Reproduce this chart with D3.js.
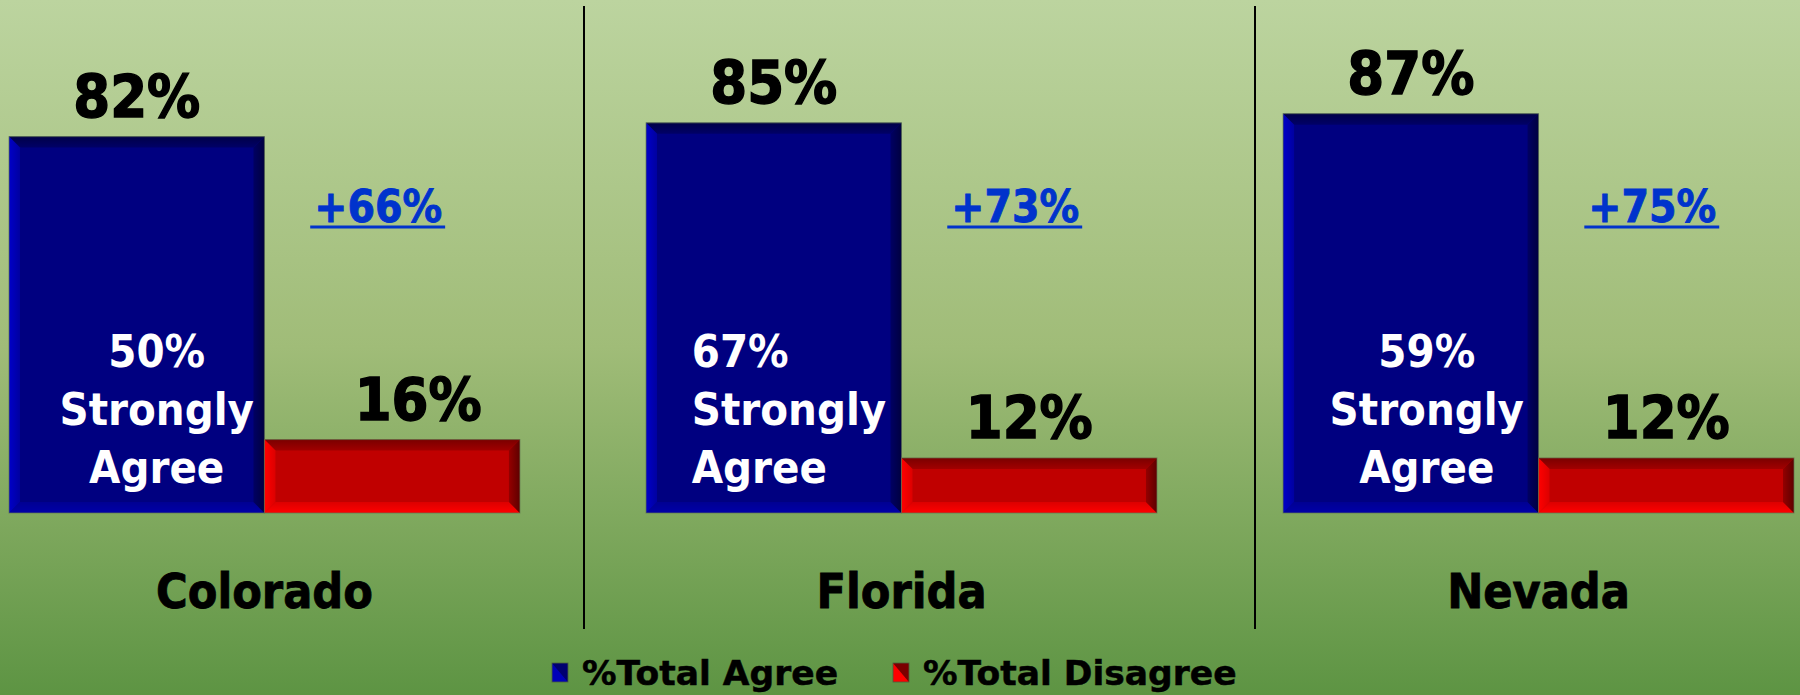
<!DOCTYPE html>
<html>
<head>
<meta charset="utf-8">
<script src="https://cdn.jsdelivr.net/npm/d3@7"></script>
<style>
  html, body { margin: 0; padding: 0; background: #fff; }
  svg { display: block; }
  text { font-family: Tahoma, "DejaVu Sans Condensed", "DejaVu Sans", sans-serif; font-weight: bold; }
</style>
</head>
<body>
<div id="chart"></div>
<script>
// Data
const states = ["Colorado", "Florida", "Nevada"];
const series = ["%Total Agree", "%Total Disagree"];
const totalAgree = [82, 85, 87];
const totalDisagree = [16, 12, 12];
const stronglyAgree = [50, 67, 59];

const width = 1800, height = 695;

const svg = d3.select("#chart")
  .append("svg")
  .attr("width", width)
  .attr("height", height);

const defs = svg.append("defs");

// background gradient
const bg = defs.append("linearGradient")
  .attr("id", "bg").attr("x1", 0).attr("y1", 0).attr("x2", 0).attr("y2", 1);
bg.append("stop").attr("offset", "0%").attr("stop-color", "#bcd49f");
bg.append("stop").attr("offset", "50%").attr("stop-color", "#a0bc78");
bg.append("stop").attr("offset", "100%").attr("stop-color", "#5d9443");

svg.append("rect")
  .attr("width", width).attr("height", height)
  .attr("fill", "url(#bg)");

// bevel colours per series: center, top, left, right, bottom
const bevel = {
  "%Total Agree":    { mid: "#000080", top: "#000048", left: "#0000c8", right: "#000040", bottom: "#0000a8" },
  "%Total Disagree": { mid: "#c00000", top: "#7a0000", left: "#ff0000", right: "#5e0000", bottom: "#ff0000" }
};

// gradients for each bevel edge
series.forEach((s, si) => {
  const c = bevel[s];
  const mk = (id, x1, y1, x2, y2, from) => {
    const g = defs.append("linearGradient").attr("id", id)
      .attr("x1", x1).attr("y1", y1).attr("x2", x2).attr("y2", y2);
    g.append("stop").attr("offset", "0%").attr("stop-color", from);
    g.append("stop").attr("offset", "100%").attr("stop-color", d3.interpolateRgb(from, c.mid)(0.55));
  };
  mk(`s${si}top`, 0, 0, 0, 1, c.top);
  mk(`s${si}left`, 0, 0, 1, 0, c.left);
  mk(`s${si}right`, 1, 0, 0, 0, c.right);
  mk(`s${si}bottom`, 0, 1, 0, 0, c.bottom);
});

// scales
const x0 = d3.scaleBand()
  .domain(states)
  .range([9, 1794])
  .paddingInner(0.198)
  .paddingOuter(0);

const x1 = d3.scaleBand()
  .domain(series)
  .range([0, x0.bandwidth()])
  .padding(0);

const y = d3.scaleLinear()
  .domain([0, 100])
  .range([513, 54]);

const data = states.map((st, i) => ({
  state: st,
  values: [
    { key: series[0], value: totalAgree[i] },
    { key: series[1], value: totalDisagree[i] }
  ],
  strong: stronglyAgree[i],
  gap: totalAgree[i] - totalDisagree[i]
}));

// vertical dividers between panels
[584, 1255].forEach(xd => {
  svg.append("line")
    .attr("x1", xd).attr("x2", xd)
    .attr("y1", 6).attr("y2", 629)
    .attr("stroke", "#000").attr("stroke-width", 2);
});

const groups = svg.selectAll("g.state")
  .data(data)
  .join("g")
  .attr("class", "state")
  .attr("transform", d => `translate(${x0(d.state)},0)`);

// bevelled bars
function drawBar(g, x, yTop, w, h, key) {
  const si = series.indexOf(key);
  const b = Math.min(11, h / 3);
  const x2 = x + w, y2 = yTop + h;
  const pts = a => a.map(p => p.join(",")).join(" ");
  g.append("rect")
    .attr("x", x).attr("y", yTop).attr("width", w).attr("height", h)
    .attr("fill", bevel[key].mid);
  g.append("polygon")
    .attr("points", pts([[x, yTop], [x2, yTop], [x2 - b, yTop + b], [x + b, yTop + b]]))
    .attr("fill", `url(#s${si}top)`);
  g.append("polygon")
    .attr("points", pts([[x, y2], [x2, y2], [x2 - b, y2 - b], [x + b, y2 - b]]))
    .attr("fill", `url(#s${si}bottom)`);
  g.append("polygon")
    .attr("points", pts([[x, yTop], [x + b, yTop + b], [x + b, y2 - b], [x, y2]]))
    .attr("fill", `url(#s${si}left)`);
  g.append("polygon")
    .attr("points", pts([[x2, yTop], [x2 - b, yTop + b], [x2 - b, y2 - b], [x2, y2]]))
    .attr("fill", `url(#s${si}right)`);
  g.append("rect")
    .attr("x", x).attr("y", yTop).attr("width", w).attr("height", h)
    .attr("fill", "none")
    .attr("stroke", "#5f7550").attr("stroke-opacity", 0.7).attr("stroke-width", 1);
}

groups.each(function (d) {
  const g = d3.select(this);
  d.values.forEach(v => {
    drawBar(g, x1(v.key), y(v.value), x1.bandwidth(), y(0) - y(v.value), v.key);
  });
});

// value labels on top of bars
const labelNudge = { Colorado: [26, 0] };
groups.each(function (d) {
  const g = d3.select(this);
  d.values.forEach((v, vi) => {
    const nudge = vi === 1 && labelNudge[d.state] ? labelNudge[d.state][0] : 0;
    g.append("text")
      .attr("x", x1(v.key) + x1.bandwidth() / 2 + nudge)
      .attr("y", y(v.value) - 20)
      .attr("text-anchor", "middle")
      .attr("font-size", 59)
      .attr("fill", "#000")
      .attr("stroke", "#000").attr("stroke-width", 1.4)
      .text(v.value + "%");
  });
});

// strongly agree labels inside the blue bar
const strongPos = {
  Colorado: { anchor: "middle", dx: 20 },
  Florida:  { anchor: "start",  dx: -82 },
  Nevada:   { anchor: "middle", dx: 16 }
};
groups.each(function (d) {
  const p = strongPos[d.state];
  const cx = x1(series[0]) + x1.bandwidth() / 2 + p.dx;
  const t = d3.select(this).append("text")
    .attr("text-anchor", p.anchor)
    .attr("font-size", 45)
    .attr("fill", "#fff");
  [d.strong + "%", "Strongly", "Agree"].forEach((line, i) => {
    t.append("tspan").attr("x", cx).attr("y", 367 + i * 58).text(line);
  });
});

// net difference labels (underlined)
groups.each(function (d) {
  const g = d3.select(this);
  const cx = x1(series[1]) + x1.bandwidth() / 2 - 14;
  const t = g.append("text")
    .attr("x", cx)
    .attr("y", 222)
    .attr("text-anchor", "middle")
    .attr("font-size", 44)
    .attr("fill", "#0033cc")
    .attr("stroke", "#0033cc").attr("stroke-width", 0.8)
    .text("+" + d.gap + "%");
  const bb = t.node().getBBox();
  g.append("line")
    .attr("x1", bb.x - 4).attr("x2", bb.x + bb.width + 3)
    .attr("y1", 227).attr("y2", 227)
    .attr("stroke", "#0033cc").attr("stroke-width", 3);
});

// state names
groups.append("text")
  .attr("x", x0.bandwidth() / 2)
  .attr("y", 608)
  .attr("text-anchor", "middle")
  .attr("font-size", 48)
  .attr("fill", "#000")
  .attr("stroke", "#000").attr("stroke-width", 0.8)
  .text(d => d.state);

// legend
const legendX = [552, 893];
const legend = svg.selectAll("g.legend")
  .data(series)
  .join("g")
  .attr("class", "legend")
  .attr("transform", (d, i) => `translate(${legendX[i]},663)`);

legend.append("rect")
  .attr("width", 16).attr("height", 19)
  .attr("fill", d => bevel[d].mid);
legend.append("polygon")
  .attr("points", "0,0 16,19 0,19")
  .attr("fill", d => d === series[1] ? "#ff0000" : "#0000b8");
legend.append("polygon")
  .attr("points", "0,0 16,0 16,19")
  .attr("fill", d => d === series[1] ? "#7a0000" : "#000070");
legend.append("rect")
  .attr("width", 16).attr("height", 19)
  .attr("fill", "none").attr("stroke", "#4a5f3c").attr("stroke-width", 0.8);

legend.append("text")
  .attr("x", 30)
  .attr("y", 22)
  .style("font-family", "Tahoma, 'DejaVu Sans', sans-serif")
  .attr("font-size", 34.5)
  .attr("fill", "#000")
  .attr("stroke", "#000").attr("stroke-width", 0.5)
  .text(d => d);
</script>
</body>
</html>
